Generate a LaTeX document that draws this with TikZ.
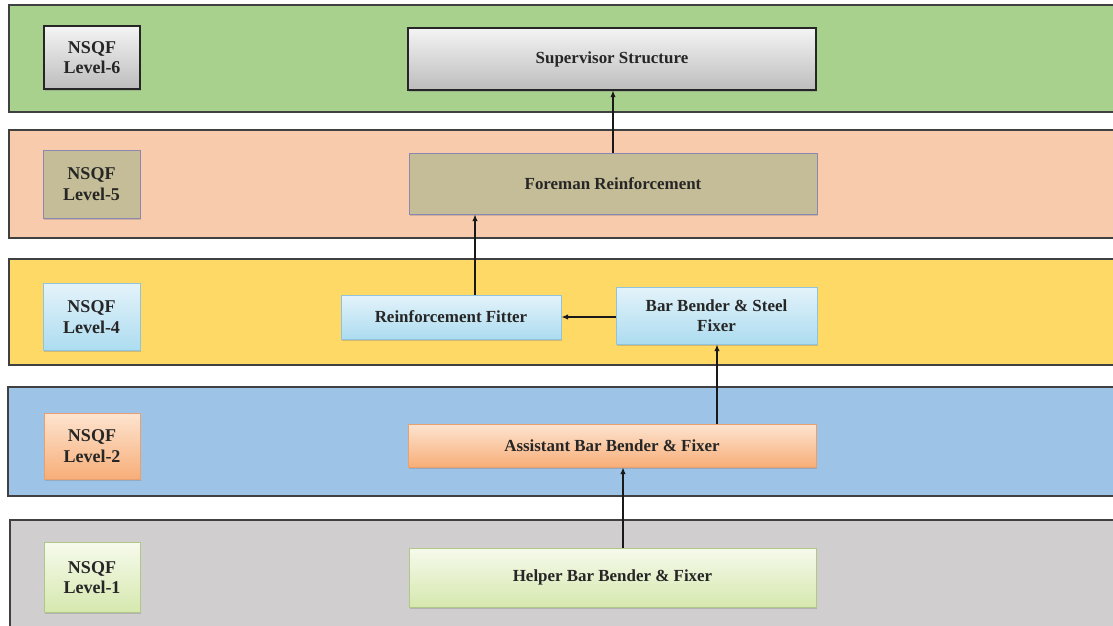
\documentclass[tikz,border=0pt]{standalone}
\usepackage{fontspec}
\setmainfont{Liberation Serif}
\usetikzlibrary{arrows.meta,shadows}
\newlength\ux
\setlength\ux{0.75pt}
\definecolor{bgreen}{HTML}{A9D18E}
\definecolor{bpeach}{HTML}{F8CBAD}
\definecolor{byellow}{HTML}{FFD966}
\definecolor{bblue}{HTML}{9DC3E6}
\definecolor{bgray}{HTML}{D0CECE}
\definecolor{bandline}{HTML}{404040}
\definecolor{gtop}{HTML}{F4F4F4}
\definecolor{gbot}{HTML}{BDBDBD}
\definecolor{khaki}{HTML}{C4BD97}
\definecolor{khakiline}{HTML}{8B87B0}
\definecolor{ctop}{HTML}{E4F3FA}
\definecolor{cbot}{HTML}{ACDCF0}
\definecolor{cline}{HTML}{8FC3DE}
\definecolor{otop}{HTML}{FDE4D0}
\definecolor{obot}{HTML}{F7AE78}
\definecolor{oline}{HTML}{E8A070}
\definecolor{ltop}{HTML}{F6FAEC}
\definecolor{lbot}{HTML}{D6E8AE}
\definecolor{lline}{HTML}{AFC88A}
\tikzset{
  band/.style={draw=bandline, line width=1.1pt, inner sep=0pt},
  box/.style={rectangle, inner sep=2pt, align=center,
    font=\bfseries\fontsize{12.7}{15}\selectfont, text=black!85,
    drop shadow={shadow xshift=1pt, shadow yshift=-1.3pt, opacity=0.35}},
  lvl/.style={font=\bfseries\fontsize{13.5}{15.5}\selectfont},
  graybox/.style={box, draw=black!85, line width=0.8pt, top color=gtop, bottom color=gbot},
  khakibox/.style={box, draw=khakiline, line width=0.6pt, fill=khaki},
  cyanbox/.style={box, draw=cline, line width=0.6pt, top color=ctop, bottom color=cbot},
  orangebox/.style={box, draw=oline, line width=0.6pt, top color=otop, bottom color=obot},
  limebox/.style={box, draw=lline, line width=0.6pt, top color=ltop, bottom color=lbot},
  arr/.style={draw=black!90, line width=0.8pt, -{Latex[length=5pt,width=4pt]}}
}
\begin{document}
\begin{tikzpicture}[x=0.75pt,y=-0.75pt]
\useasboundingbox (0,0) rectangle (1113,625);
\fill[white] (0,0) rectangle (1113,625);
% bands
\draw[band, fill=bgreen]  (9,5)   rectangle (1125,112);
\draw[band, fill=bpeach]  (9,130) rectangle (1125,238);
\draw[band, fill=byellow] (9,259) rectangle (1125,365);
\draw[band, fill=bblue]   (8,387) rectangle (1125,496);
\draw[band, fill=bgray]   (10,520) rectangle (1125,640);
% level boxes
\node[graybox, lvl,   minimum width=96\ux, minimum height=63\ux] (l6) at (92,57.5) {NSQF\\Level-6};
\node[khakibox, lvl,  minimum width=97\ux, minimum height=68\ux] (l5) at (91.5,184) {NSQF\\Level-5};
\node[cyanbox, lvl,   minimum width=97\ux, minimum height=67\ux] (l4) at (91.5,317) {NSQF\\Level-4};
\node[orangebox, lvl, minimum width=96\ux, minimum height=66\ux] (l2) at (92,446) {NSQF\\Level-2};
\node[limebox, lvl,   minimum width=96\ux, minimum height=70\ux] (l1) at (92,577.5) {NSQF\\Level-1};
% main boxes
\node[graybox,   minimum width=408\ux, minimum height=62\ux] (sup) at (612,59) {Supervisor Structure};
\node[khakibox,  minimum width=408\ux, minimum height=61\ux] (fore) at (613,183.5) {Foreman Reinforcement};
\node[cyanbox,   minimum width=220\ux, minimum height=44\ux] (rf) at (451,317) {Reinforcement Fitter};
\node[cyanbox,   minimum width=201\ux, minimum height=57\ux] (bb) at (716.5,315.5) {Bar Bender \& Steel\\Fixer};
\node[orangebox, minimum width=408\ux, minimum height=43\ux] (asst) at (612,445.5) {Assistant Bar Bender \& Fixer};
\node[limebox,   minimum width=407\ux, minimum height=59\ux] (help) at (612.5,577.5) {Helper Bar Bender \& Fixer};
% connector guide coordinates
\coordinate (c1) at (613,0);
\coordinate (c2) at (475,0);
\coordinate (c3) at (0,317);
\coordinate (c4) at (717,0);
\coordinate (c5) at (623,0);
% connectors
\draw[arr] (fore.north -| c1) -- (sup.south -| c1);
\draw[arr] (rf.north -| c2) -- (fore.south -| c2);
\draw[arr] (bb.west |- c3) -- (rf.east |- c3);
\draw[arr] (asst.north -| c4) -- (bb.south -| c4);
\draw[arr] (help.north -| c5) -- (asst.south -| c5);
\end{tikzpicture}
\end{document}
